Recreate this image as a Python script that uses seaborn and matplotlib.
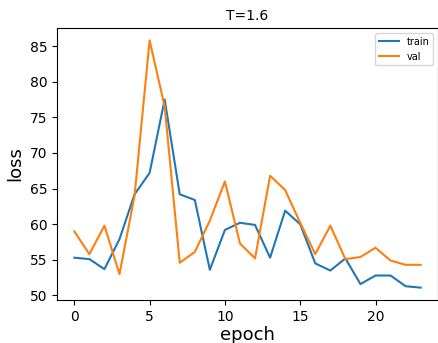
import numpy as np
import pandas as pd
import matplotlib
matplotlib.use('Agg')
import matplotlib.pyplot as plt
import seaborn as sns

# losses
epochs = list(range(24))
train_loss = [55.3, 55.1, 53.7, 57.9, 64.2, 67.2, 77.5, 64.2, 63.4, 53.6, 59.2, 60.2,
              59.9, 55.3, 61.9, 60.0, 54.5, 53.5, 55.2, 51.6, 52.8, 52.8, 51.3, 51.1]
val_loss = [59.0, 55.8, 59.8, 53.0, 64.0, 85.8, 76.5, 54.6, 56.1, 60.5, 66.0, 57.3,
            55.2, 66.8, 64.8, 60.2, 55.8, 59.8, 55.1, 55.4, 56.7, 54.9, 54.3, 54.3]

df = pd.DataFrame({'epoch': epochs + epochs,
                   'loss': train_loss + val_loss,
                   'split': ['train'] * 24 + ['val'] * 24})

fig = plt.figure(figsize=(4.39, 3.43), dpi=100)
ax = fig.add_axes([57/439, 43/343, 381/439, 272/343])
sns.lineplot(data=df, x='epoch', y='loss', hue='split',
             palette=['#1f77b4', '#ff7f0e'], linewidth=1.5, ax=ax)

ax.set_title('T=1.6', fontsize=10)
ax.set_xlabel('epoch', fontsize=13, labelpad=2)
ax.set_ylabel('loss', fontsize=13)
ax.tick_params(labelsize=10)
ax.legend(loc='upper right', fontsize=7)

fig.savefig('out.png', dpi=100)
